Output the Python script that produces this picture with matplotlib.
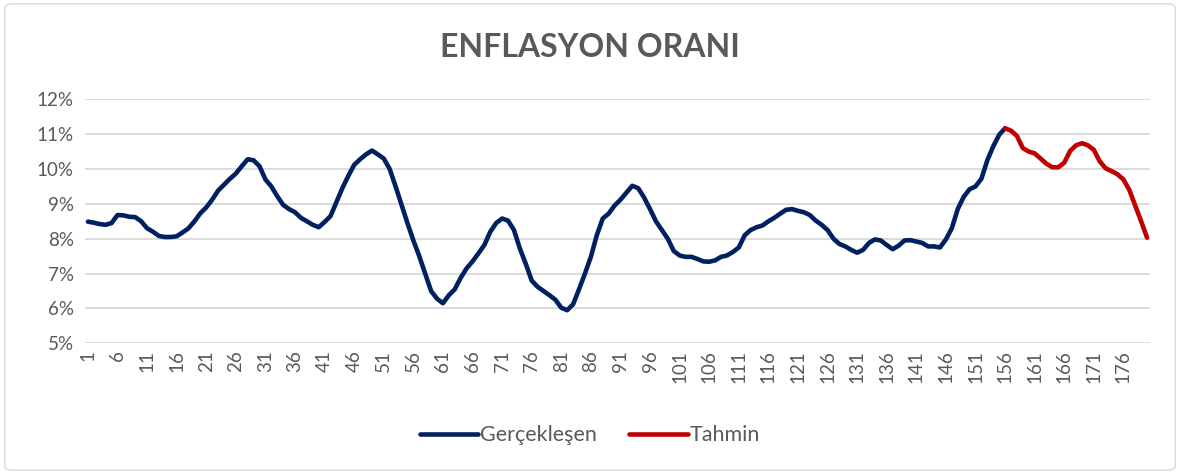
import numpy as np
import matplotlib.pyplot as plt
from matplotlib.patches import FancyBboxPatch
from matplotlib.ticker import FuncFormatter

# gerceklesen (1..156) ve tahmin (156..180) degerleri, %
gerceklesen = [
    8.49, 8.46, 8.42, 8.40, 8.45, 8.68, 8.67, 8.63, 8.62, 8.50,
    8.30, 8.20, 8.08, 8.05, 8.05, 8.07, 8.18, 8.30, 8.50, 8.73,
    8.90, 9.12, 9.38, 9.55, 9.72, 9.87, 10.08, 10.28, 10.25, 10.08,
    9.70, 9.50, 9.22, 8.97, 8.85, 8.76, 8.60, 8.50, 8.40, 8.33,
    8.48, 8.65, 9.05, 9.45, 9.80, 10.12, 10.28, 10.42, 10.53, 10.42,
    10.30, 10.00, 9.50, 8.97, 8.45, 7.95, 7.50, 7.00, 6.50, 6.28,
    6.15, 6.38, 6.55, 6.88, 7.15, 7.35, 7.58, 7.82, 8.20, 8.45,
    8.58, 8.52, 8.25, 7.72, 7.28, 6.80, 6.62, 6.50, 6.38, 6.25,
    6.02, 5.95, 6.12, 6.55, 7.00, 7.48, 8.10, 8.58, 8.72, 8.95,
    9.12, 9.32, 9.52, 9.45, 9.18, 8.85, 8.50, 8.25, 8.00, 7.65,
    7.52, 7.48, 7.48, 7.42, 7.35, 7.34, 7.38, 7.48, 7.52, 7.62,
    7.75, 8.10, 8.25, 8.33, 8.38, 8.50, 8.60, 8.72, 8.83, 8.85,
    8.80, 8.76, 8.68, 8.52, 8.40, 8.25, 8.00, 7.85, 7.78, 7.68,
    7.60, 7.68, 7.88, 7.98, 7.95, 7.82, 7.70, 7.80, 7.95, 7.96,
    7.92, 7.88, 7.78, 7.78, 7.75, 7.98, 8.30, 8.85, 9.20, 9.42,
    9.50, 9.72, 10.25, 10.65, 10.98, 11.17,
]
tahmin = [
    11.17, 11.10, 10.95, 10.60, 10.50, 10.45, 10.30, 10.15, 10.05, 10.05,
    10.18, 10.52, 10.68, 10.74, 10.68, 10.55, 10.22, 10.02, 9.94, 9.85,
    9.70, 9.40, 8.95, 8.50, 8.03,
]
x_gercek = np.arange(1, len(gerceklesen) + 1)
x_tahmin = np.arange(len(gerceklesen), len(gerceklesen) + len(tahmin))

plt.rcParams['font.family'] = ['Lato', 'DejaVu Sans']
gray = '#595959'

fig = plt.figure(figsize=(11.8, 4.74), dpi=100)
fig.patches.append(FancyBboxPatch((0.004, 0.008), 0.992, 0.984, boxstyle='round,pad=0,rounding_size=0.008',
                                  transform=fig.transFigure, fc='white', ec='#d9d9d9', lw=1.0, zorder=-1))
ax = fig.add_axes([0.072, 0.2757, 0.9026, 0.5148])

ax.plot(x_gercek, np.array(gerceklesen) / 100, color='#002060', lw=3.3, solid_capstyle='round',
        solid_joinstyle='round', label='Gerçekleşen', zorder=3)
ax.plot(x_tahmin, np.array(tahmin) / 100, color='#C00000', lw=3.3, solid_capstyle='round',
        solid_joinstyle='round', label='Tahmin', zorder=3)

ax.set_xlim(0.5, 180.5)
ax.set_ylim(0.05, 0.12)
ax.set_yticks(np.arange(0.05, 0.1201, 0.01))
ax.yaxis.set_major_formatter(FuncFormatter(lambda v, p: f'{v * 100:.0f}%'))
ax.set_xticks(np.arange(1, 180, 5))
ax.set_xticklabels([str(i) for i in range(1, 180, 5)], rotation=90)
ax.tick_params(axis='both', length=0, colors=gray, labelsize=13.5)
ax.tick_params(axis='x', pad=5)
ax.tick_params(axis='y', pad=8)
ax.grid(axis='y', color='#d9d9d9', lw=1.3)
ax.set_axisbelow(True)
for s in ax.spines.values():
    s.set_visible(False)

fig.text(0.5, 0.9, 'ENFLASYON ORANI', ha='center', va='center', fontsize=23, fontweight='bold', color=gray)
fig.legend(loc='center', bbox_to_anchor=(0.5, 0.082), ncol=2, frameon=False, fontsize=15.5,
           labelcolor=gray, handlelength=2.7, handletextpad=0.1, columnspacing=1.5)

fig.savefig('out.png', dpi=100)
